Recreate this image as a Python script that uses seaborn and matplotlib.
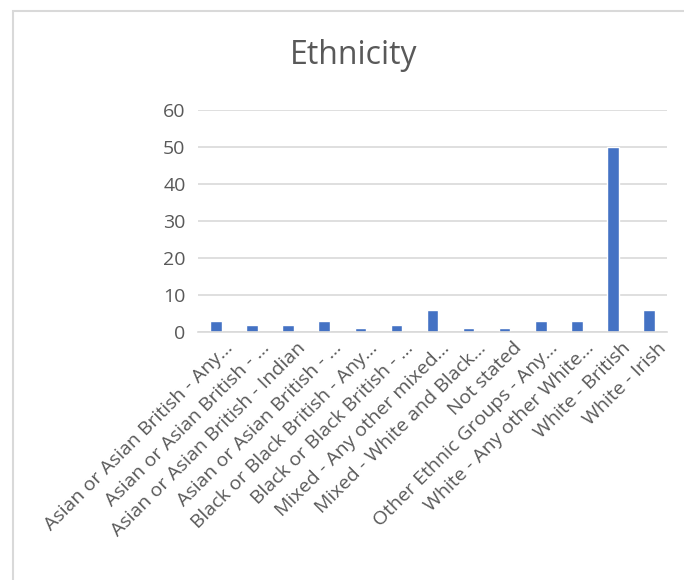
import seaborn as sns
import matplotlib.pyplot as plt
from matplotlib.patches import Rectangle
from matplotlib.transforms import ScaledTranslation

categories = [
    "Asian or Asian British - Any…",
    "Asian or Asian British - …",
    "Asian or Asian British - Indian",
    "Asian or Asian British - …",
    "Black or Black British - Any…",
    "Black or Black British - …",
    "Mixed - Any other mixed…",
    "Mixed - White and Black…",
    "Not stated",
    "Other Ethnic Groups - Any…",
    "White - Any other White…",
    "White - British",
    "White - Irish",
]
counts = [3, 2, 2, 3, 1, 2, 6, 1, 1, 3, 3, 50, 6]
yticks = [0, 10, 20, 30, 40, 50, 60]

sns.set_style("white")
plt.rcParams['font.family'] = ['Open Sans', 'DejaVu Sans']

fig = plt.figure(figsize=(6.84, 5.8), dpi=100)
ax = fig.add_axes([198 / 684, 1 - 332 / 580, 469 / 684, 222 / 580])

# chart border (only left and top visible in the crop)
fig.patches.append(Rectangle((13 / 684, -0.1), 1.2, 1 - 11 / 580 + 0.1,
                             transform=fig.transFigure, fill=False,
                             edgecolor='#d9d9d9', linewidth=1.5))

# labels repeat, so plot by position and label the ticks afterwards
pos = list(range(len(categories)))
sns.barplot(x=pos, y=counts, color='#4472C4', width=0.32,
            saturation=1, ax=ax)

ax.set_ylim(0, 60)
ax.set_yticks(yticks)
ax.yaxis.grid(True, color='#d9d9d9', linewidth=1.2)
ax.set_axisbelow(True)
for s in ['top', 'right', 'left']:
    ax.spines[s].set_visible(False)
ax.spines['bottom'].set_color('#d9d9d9')
ax.spines['bottom'].set_linewidth(1.2)
ax.tick_params(axis='both', length=0, labelsize=14, colors='#595959', pad=9)
ax.set_xticks(pos)
ax.set_xticklabels(categories, rotation=45, ha='right', rotation_mode='anchor')
ax.tick_params(axis='x', pad=5)
shift = ScaledTranslation(8 / 100, 0, fig.dpi_scale_trans)
for lab in ax.get_xticklabels():
    lab.set_transform(lab.get_transform() + shift)
ax.set_xlabel('')
ax.set_ylabel('')

fig.text(354 / 684, 1 - 55 / 580, 'Ethnicity', ha='center', va='center',
         fontsize=23, color='#595959')

plt.savefig('out.png', dpi=100)
